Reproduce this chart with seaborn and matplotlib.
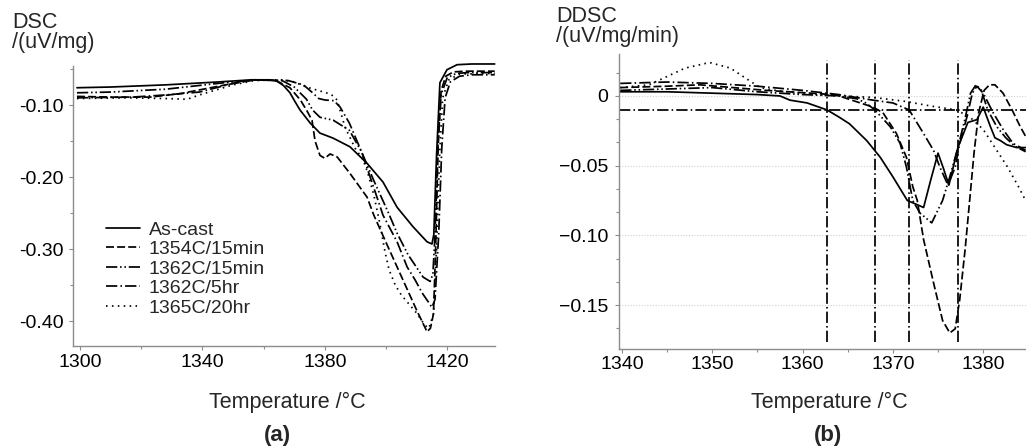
import matplotlib
matplotlib.use("Agg")
import matplotlib.pyplot as plt
import seaborn as sns
import pandas as pd
from matplotlib.ticker import MultipleLocator, FixedLocator
from matplotlib.lines import Line2D

series_names = ["As-cast", "1354C/15min", "1362C/15min", "1362C/5hr", "1365C/20hr"]

# ---------------- panel (a): DSC ----------------
a_cast_T = [1299, 1310, 1328, 1345, 1356, 1362, 1364.4, 1366.5, 1368.6, 1370.2, 1371.9, 1375.2, 1378.4,
            1382.7, 1388.2, 1393.8, 1399, 1403.6, 1408.8, 1413.4, 1415, 1415.6, 1416.5, 1417.6, 1419.9,
            1423.2, 1428, 1435.5]
a_cast_v = [-0.076, -0.075, -0.072, -0.068, -0.065, -0.065, -0.067, -0.073, -0.083, -0.095, -0.107, -0.125,
            -0.139, -0.146, -0.158, -0.181, -0.207, -0.242, -0.269, -0.290, -0.293, -0.28, -0.17, -0.069,
            -0.051, -0.044, -0.043, -0.043]

a_1354_T = [1299, 1310, 1323, 1333, 1339, 1350, 1357, 1364, 1368.6, 1372, 1374, 1375.8, 1376.8, 1378.4,
            1380, 1381.7, 1384, 1388.2, 1393.8, 1396, 1400, 1405, 1410, 1413.4, 1414.5, 1415.5, 1416.2,
            1417, 1418, 1419.5, 1422, 1426, 1435.5]
a_1354_v = [-0.088, -0.089, -0.089, -0.084, -0.079, -0.070, -0.065, -0.066, -0.076, -0.093, -0.107, -0.121,
            -0.150, -0.170, -0.174, -0.168, -0.172, -0.195, -0.228, -0.253, -0.291, -0.338, -0.385, -0.415,
            -0.410, -0.390, -0.30, -0.16, -0.08, -0.060, -0.054, -0.053, -0.053]

a_1362s_T = [1299, 1310, 1328, 1345, 1357, 1366, 1370, 1374, 1376, 1378.4, 1382.7, 1388, 1392, 1396,
             1400.7, 1403.6, 1407.2, 1412.1, 1414.4, 1415.3, 1416, 1417, 1418, 1420, 1423, 1427, 1435.5]
a_1362s_v = [-0.083, -0.082, -0.078, -0.070, -0.065, -0.066, -0.075, -0.092, -0.107, -0.117, -0.121, -0.135,
             -0.165, -0.205, -0.249, -0.278, -0.308, -0.339, -0.345, -0.335, -0.28, -0.15, -0.085, -0.062,
             -0.056, -0.055, -0.055]

a_1362h_T = [1299, 1317, 1328, 1339, 1350, 1357, 1368, 1373, 1376, 1378, 1380, 1383, 1385, 1388, 1392,
             1396, 1399, 1403.6, 1406.9, 1409.5, 1411.8, 1415, 1416, 1417.2, 1418.2, 1419.3, 1421, 1424,
             1428, 1435.5]
a_1362h_v = [-0.090, -0.089, -0.086, -0.082, -0.070, -0.065, -0.066, -0.072, -0.083, -0.091, -0.093, -0.094,
             -0.103, -0.125, -0.165, -0.215, -0.253, -0.290, -0.325, -0.343, -0.361, -0.381, -0.37, -0.28,
             -0.16, -0.09, -0.068, -0.060, -0.058, -0.058]

a_1365_T = [1299, 1315, 1328, 1335, 1339, 1350, 1357, 1366, 1370, 1374, 1378, 1382, 1384, 1386.6, 1389.9,
            1392.5, 1394, 1396, 1398, 1399.7, 1401, 1403, 1405, 1407.2, 1410, 1412.7, 1414, 1415.5, 1416.5,
            1417.5, 1418.5, 1420.5, 1424, 1435.5]
a_1365_v = [-0.091, -0.090, -0.091, -0.092, -0.086, -0.072, -0.066, -0.065, -0.068, -0.075, -0.080, -0.085,
            -0.093, -0.131, -0.160, -0.176, -0.194, -0.225, -0.265, -0.305, -0.329, -0.350, -0.364, -0.375,
            -0.389, -0.406, -0.410, -0.39, -0.30, -0.17, -0.09, -0.065, -0.057, -0.056]

# ---------------- panel (b): DDSC ----------------
b_cast_T = [1339.8, 1345, 1350, 1355, 1357.5, 1358.6, 1360.5, 1362.7, 1364, 1365.2, 1367.1, 1368.6, 1370,
            1371.6, 1372.7, 1373.4, 1374.2, 1375, 1375.6, 1376.2, 1377.2, 1378.3, 1379.3, 1380, 1380.8,
            1381.3, 1381.9, 1382.6, 1383.7, 1384.7]
b_cast_v = [0.003, 0.003, 0.002, 0.001, 0.000, -0.003, -0.005, -0.010, -0.015, -0.020, -0.032, -0.044, -0.058,
            -0.075, -0.078, -0.080, -0.060, -0.041, -0.052, -0.064, -0.037, -0.019, -0.017, -0.008, -0.022,
            -0.030, -0.032, -0.035, -0.037, -0.037]

b_1354_T = [1339.8, 1345, 1348.6, 1356, 1363.4, 1364.5, 1367.8, 1368.9, 1370.4, 1371.5, 1372.2, 1372.7,
            1373.4, 1374.5, 1375.5, 1376.3, 1376.9, 1377.4, 1378.0, 1378.5, 1379.0, 1379.5, 1380.1, 1380.7,
            1381.3, 1382.2, 1383.2, 1384.1, 1384.7]
b_1354_v = [0.006, 0.007, 0.008, 0.004, 0.001, -0.001, -0.008, -0.012, -0.027, -0.044, -0.065, -0.075,
            -0.103, -0.134, -0.161, -0.170, -0.167, -0.146, -0.110, -0.075, -0.040, -0.012, 0.004, 0.008,
            0.008, 0.002, -0.010, -0.022, -0.029]

b_1362s_T = [1339.8, 1345, 1350, 1355, 1360, 1364, 1366, 1367, 1368, 1369.7, 1370.8, 1371.5, 1372.2, 1373,
             1374.3, 1375.5, 1376.3, 1377.2, 1378, 1378.6, 1379.2, 1379.8, 1380.5, 1381.5, 1382.5, 1383.5,
             1384.7]
b_1362s_v = [0.004, 0.005, 0.006, 0.003, 0.001, 0.000, -0.002, -0.005, -0.010, -0.022, -0.034, -0.051, -0.075,
             -0.084, -0.091, -0.075, -0.058, -0.037, -0.016, 0.002, 0.008, 0.004, -0.010, -0.022, -0.030,
             -0.036, -0.040]

b_1362h_T = [1339.8, 1345, 1350, 1355, 1360, 1364, 1367.8, 1370, 1371.8, 1373.4, 1374.5, 1375.2, 1376.1,
             1376.9, 1377.4, 1378.2, 1378.8, 1379.3, 1380.0, 1381.1, 1382.2, 1383.3, 1384.7]
b_1362h_v = [0.009, 0.010, 0.009, 0.007, 0.004, 0.001, -0.003, -0.005, -0.010, -0.027, -0.039, -0.051, -0.064,
             -0.051, -0.034, -0.015, 0.002, 0.007, 0.002, -0.012, -0.024, -0.034, -0.039]

b_1365_T = [1339.8, 1343, 1345, 1347, 1349.7, 1352, 1353.4, 1355.3, 1357, 1359.7, 1364, 1367.8, 1371.5, 1374,
            1377, 1378.5, 1380, 1381.5, 1382.7, 1383.9, 1384.7]
b_1365_v = [0.006, 0.008, 0.014, 0.020, 0.024, 0.020, 0.014, 0.006, 0.004, 0.002, 0.000, -0.001, -0.004,
            -0.007, -0.010, -0.015, -0.024, -0.039, -0.051, -0.065, -0.075]

# onset markers in (b)
onset_T = [1362.7, 1368.0, 1371.8, 1377.2]
onset_level = -0.01

a_xticks = [1300, 1340, 1380, 1420]
a_yticks = [-0.40, -0.30, -0.20, -0.10]
a_yticklabels = ["-0.40", "-0.30", "-0.20", "-0.10"]
b_xticks = [1340, 1350, 1360, 1370, 1380]
b_yticks = [-0.15, -0.10, -0.05, 0.0]
b_yticklabels = ["\u22120.15", "\u22120.10", "\u22120.05", "0"]

a_data = [(a_cast_T, a_cast_v), (a_1354_T, a_1354_v), (a_1362s_T, a_1362s_v),
          (a_1362h_T, a_1362h_v), (a_1365_T, a_1365_v)]
b_data = [(b_cast_T, b_cast_v), (b_1354_T, b_1354_v), (b_1362s_T, b_1362s_v),
          (b_1362h_T, b_1362h_v), (b_1365_T, b_1365_v)]


def long_df(pairs):
    frames = []
    for name, (t, v) in zip(series_names, pairs):
        frames.append(pd.DataFrame({"T": t, "v": v, "series": name}))
    return pd.concat(frames, ignore_index=True)


df_a = long_df(a_data)
df_b = long_df(b_data)

sns.set_theme(style="white")
plt.rcParams["font.family"] = ["Liberation Sans", "DejaVu Sans"]

dash_map = {
    "As-cast": "",
    "1354C/15min": (4.6, 1.8),
    "1362C/15min": (6.5, 1.6, 0.9, 1.6, 0.9, 1.6),
    "1362C/5hr": (6.5, 1.8, 0.9, 1.8),
    "1365C/20hr": (0.9, 2.5),
}
LW = 1.25
SPINE = "#8c8c8c"

fig = plt.figure(figsize=(10.26, 4.48), dpi=100)
W, H = 1026, 448

ax_a = fig.add_axes([73 / W, 1 - 346 / H, (495 - 73) / W, (346 - 66) / H])
ax_b = fig.add_axes([619 / W, 1 - 349 / H, (1026 - 619) / W, (349 - 54) / H])

for ax, df in ((ax_a, df_a), (ax_b, df_b)):
    sns.lineplot(data=df, x="T", y="v", style="series", style_order=series_names,
                 dashes=dash_map, color="black", linewidth=LW, sort=False,
                 estimator=None, legend=False, ax=ax)
    for ln in ax.lines:
        ln.set_clip_on(False)
        ln.set_dash_capstyle("butt")

# ---- axes (a) styling
ax_a.set_xlim(1297.7, 1435.6)
ax_a.set_ylim(-0.4347, -0.0458)
ax_a.xaxis.set_major_locator(FixedLocator(a_xticks))
ax_a.xaxis.set_minor_locator(MultipleLocator(20))
ax_a.yaxis.set_major_locator(FixedLocator(a_yticks))
ax_a.set_yticklabels(a_yticklabels)
ax_a.yaxis.set_minor_locator(MultipleLocator(0.05))
ax_a.tick_params(axis="x", labelsize=14, pad=3)
ax_a.tick_params(axis="y", labelsize=14, pad=3.5)

# ---- axes (b) styling
ax_b.set_xlim(1339.67, 1384.74)
ax_b.set_ylim(-0.1815, 0.0301)
ax_b.xaxis.set_major_locator(FixedLocator(b_xticks))
ax_b.xaxis.set_minor_locator(MultipleLocator(5))
ax_b.yaxis.set_major_locator(FixedLocator(b_yticks))
ax_b.set_yticklabels(b_yticklabels)
ax_b.yaxis.set_minor_locator(MultipleLocator(0.05 / 3))
ax_b.tick_params(axis="x", labelsize=14, pad=2)
ax_b.tick_params(axis="y", labelsize=14, pad=5)
for yv in b_yticks:
    ax_b.axhline(yv, color="#d0d0d0", lw=0.8, ls=(0, (1, 1.5)), zorder=0)

dd = (0, (6.5, 1.8, 0.9, 1.8))
ax_b.vlines(onset_T, -0.1765, 0.0258, colors="black", lw=LW, linestyles=[dd])
ax_b.axhline(onset_level, color="black", lw=LW, ls=dd)

for ax in (ax_a, ax_b):
    sns.despine(ax=ax)
    for s in ("left", "bottom"):
        ax.spines[s].set_color(SPINE)
        ax.spines[s].set_linewidth(1.0)
    ax.tick_params(which="both", direction="out", color=SPINE, length=3, width=0.8,
                   left=True, bottom=True, labelcolor="black")
    ax.tick_params(which="minor", length=2.5)
    ax.set_xlabel("")
    ax.set_ylabel("")
    ax.grid(False)

# ---- legend (a)
handles = []
for name in series_names:
    d = dash_map[name]
    ls = "-" if d == "" else (0, d)
    handles.append(Line2D([], [], color="black", lw=LW, ls=ls, dash_capstyle="butt"))
fig.legend(handles, series_names, loc="upper left", bbox_to_anchor=(106 / W, 1 - 221 / H),
           bbox_transform=fig.transFigure, frameon=False, fontsize=14, handlelength=1.75,
           handletextpad=0.45, labelspacing=0.1, borderpad=0, borderaxespad=0)

# ---- texts
TS = 15.5
fig.text(12 / W, 1 - 12 / H, "DSC\n/(uV/mg)", fontsize=TS, ha="left", va="top",
         linespacing=0.92)
fig.text(556 / W, 1 - 6 / H, "DDSC\n/(uV/mg/min)", fontsize=TS, ha="left", va="top",
         linespacing=0.92)

fig.text(287 / W, 1 - 408 / H, "Temperature /\u00b0C", fontsize=TS, ha="center", va="baseline")
fig.text(829 / W, 1 - 408 / H, "Temperature /\u00b0C", fontsize=TS, ha="center", va="baseline")
fig.text(277 / W, 1 - 441 / H, "(a)", fontsize=16, fontweight="bold", ha="center", va="baseline")
fig.text(828 / W, 1 - 441 / H, "(b)", fontsize=16, fontweight="bold", ha="center", va="baseline")

fig.savefig("out.png", dpi=100)
